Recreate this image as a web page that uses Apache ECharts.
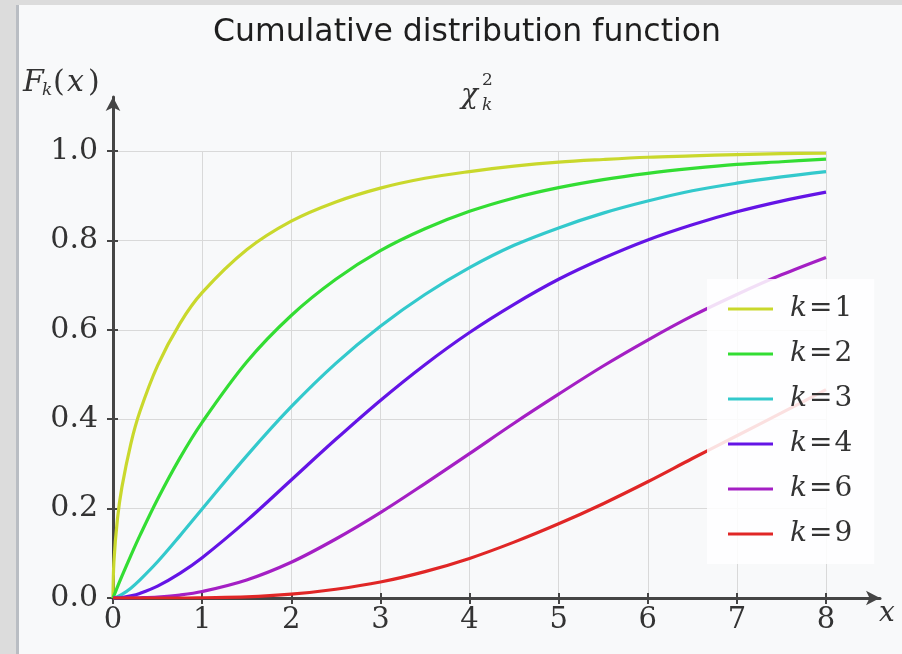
<!DOCTYPE html>
<html><head><meta charset="utf-8">
<script src="https://cdn.jsdelivr.net/npm/echarts@6/dist/echarts.min.js"></script>
<style>html,body{margin:0;padding:0;background:#f8f9fa}#c{width:902px;height:654px}</style>
</head><body><div id="c"></div><script>
const xValues = [0, 0.01, 0.05, 0.1, 0.2, 0.3, 0.5, 0.75, 1, 1.5, 2, 2.5, 3, 3.5, 4, 4.5, 5, 5.5, 6, 6.5, 7, 7.5, 8];
const k1 = [0, 0.080, 0.177, 0.248, 0.345, 0.416, 0.520, 0.614, 0.683, 0.779, 0.843, 0.886, 0.917, 0.939, 0.954, 0.966, 0.975, 0.981, 0.986, 0.989, 0.992, 0.994, 0.995];
const k2 = [0, 0.005, 0.025, 0.049, 0.095, 0.139, 0.221, 0.313, 0.393, 0.528, 0.632, 0.713, 0.777, 0.826, 0.865, 0.895, 0.918, 0.936, 0.950, 0.961, 0.970, 0.976, 0.982];
const k3 = [0, 0.0003, 0.003, 0.008, 0.022, 0.040, 0.081, 0.139, 0.199, 0.318, 0.428, 0.525, 0.608, 0.679, 0.739, 0.789, 0.828, 0.861, 0.888, 0.911, 0.928, 0.942, 0.954];
const k4 = [0, 0.0000, 0.0003, 0.0012, 0.0047, 0.0102, 0.0265, 0.055, 0.090, 0.173, 0.264, 0.355, 0.442, 0.522, 0.594, 0.657, 0.713, 0.760, 0.801, 0.835, 0.864, 0.888, 0.908];
const k6 = [0, 0, 0, 0, 0.0002, 0.0005, 0.0022, 0.0066, 0.0144, 0.0404, 0.080, 0.132, 0.191, 0.256, 0.323, 0.391, 0.456, 0.519, 0.577, 0.631, 0.679, 0.723, 0.762];
const k9 = [0, 0, 0, 0, 0, 0, 0, 0, 0.0006, 0.0024, 0.0085, 0.0196, 0.0357, 0.059, 0.0886, 0.125, 0.166, 0.211, 0.260, 0.312, 0.363, 0.414, 0.466];
const seriesNames = ['k=1', 'k=2', 'k=3', 'k=4', 'k=6', 'k=9'];
const seriesValues = [k1, k2, k3, k4, k6, k9];
const seriesColors = ['#c9d82c', '#33dd33', '#33c9cc', '#6414e6', '#a41fc4', '#e02626'];
const xTicks = [0, 1, 2, 3, 4, 5, 6, 7, 8];
const yTicks = [0, 0.2, 0.4, 0.6, 0.8, 1.0];

const SERIF = '"DejaVu Serif", serif';
const AX = '#454545';
const chart = echarts.init(document.getElementById('c'));

const baseX = { type: 'value', gridIndex: 0, min: xTicks[0], max: xTicks[xTicks.length - 1], interval: 1, position: 'bottom' };
const baseY = { type: 'value', gridIndex: 0, min: yTicks[0], max: yTicks[yTicks.length - 1], interval: 0.2, position: 'left' };

const option = {
  backgroundColor: '#f8f9fa',
  animation: false,
  grid: [
    { left: 113, right: 76, top: 151, bottom: 56 },
    { left: 113, right: 22, top: 97, bottom: 56 }
  ],
  xAxis: [
    Object.assign({}, baseX, {
      axisLine: { show: false },
      axisTick: { show: true, inside: false, length: 6, lineStyle: { color: AX, width: 2 } },
      axisLabel: { show: true, margin: 8, fontFamily: SERIF, fontSize: 29, color: '#333' },
      splitLine: { show: true, lineStyle: { color: '#d9d9d9', width: 1 } }
    }),
    Object.assign({}, baseX, {
      axisLine: { show: false },
      axisTick: { show: true, inside: true, length: 5, lineStyle: { color: AX, width: 2 } },
      axisLabel: { show: false },
      splitLine: { show: false }
    }),
    { type: 'value', gridIndex: 1, min: 0, max: 8.6, position: 'bottom',
      axisLine: { show: true, symbol: ['none', 'arrow'], symbolSize: [11, 14], lineStyle: { color: AX, width: 3 } },
      axisTick: { show: false }, axisLabel: { show: false }, splitLine: { show: false } }
  ],
  yAxis: [
    Object.assign({}, baseY, {
      axisLine: { show: false },
      axisTick: { show: true, inside: false, length: 6, lineStyle: { color: AX, width: 2 } },
      axisLabel: { show: true, margin: 15, fontFamily: SERIF, fontSize: 30, color: '#333', formatter: v => v.toFixed(1) },
      splitLine: { show: true, lineStyle: { color: '#d9d9d9', width: 1 } }
    }),
    Object.assign({}, baseY, {
      axisLine: { show: false },
      axisTick: { show: true, inside: true, length: 5, lineStyle: { color: AX, width: 2 } },
      axisLabel: { show: false },
      splitLine: { show: false }
    }),
    { type: 'value', gridIndex: 1, min: 0, max: 1.12, position: 'left',
      axisLine: { show: true, symbol: ['none', 'arrow'], symbolSize: [11, 14], lineStyle: { color: AX, width: 3 } },
      axisTick: { show: false }, axisLabel: { show: false }, splitLine: { show: false } }
  ],
  legend: {
    orient: 'vertical',
    left: 707, top: 279,
    padding: [15, 22, 15, 21],
    itemGap: 15,
    itemWidth: 45, itemHeight: 3,
    icon: 'rect',
    backgroundColor: 'rgba(255,255,255,0.86)',
    data: seriesNames,
    formatter: n => '{i|k}{e|=}{r|' + n.split('=')[1] + '}',
    textStyle: {
      lineHeight: 30,
      rich: {
        i: { fontFamily: SERIF, fontStyle: 'italic', fontSize: 28, color: '#333', padding: [0, 0, 0, 12], lineHeight: 30 },
        e: { fontFamily: SERIF, fontSize: 28, color: '#333', padding: [0, 2, 0, 2], lineHeight: 30 },
        r: { fontFamily: SERIF, fontSize: 28, color: '#333', lineHeight: 30 }
      }
    }
  },
  series: seriesNames.map((name, i) => ({
    name: name,
    type: 'line',
    xAxisIndex: 0, yAxisIndex: 0,
    data: xValues.map((x, j) => [x, seriesValues[i][j]]),
    smooth: 0.35,
    showSymbol: false,
    symbol: 'none',
    color: seriesColors[i],
    lineStyle: { width: 3.2, color: seriesColors[i] },
    z: 3
  })),
  graphic: [
    { type: 'rect', shape: { x: 0, y: 0, width: 16, height: 654 }, style: { fill: '#dcdcdc' }, silent: true },
    { type: 'rect', shape: { x: 0, y: 0, width: 902, height: 5 }, style: { fill: '#dcdcdc' }, silent: true },
    { type: 'rect', shape: { x: 16, y: 5, width: 3, height: 649 }, style: { fill: '#b9bdc3' }, silent: true },
    { type: 'text', x: 467, y: 33, style: { text: 'Cumulative distribution function', font: '31.5px "DejaVu Sans"', fill: '#1e1e1e', textAlign: 'center', textVerticalAlign: 'middle' } },
    { type: 'text', x: 461, y: 96, style: { text: 'χ', font: 'italic 28px "DejaVu Serif"', fill: '#333', textAlign: 'left', textVerticalAlign: 'middle' } },
    { type: 'text', x: 482, y: 81, style: { text: '2', font: '17px "DejaVu Serif"', fill: '#333', textAlign: 'left', textVerticalAlign: 'middle' } },
    { type: 'text', x: 482, y: 106, style: { text: 'k', font: 'italic 17px "DejaVu Serif"', fill: '#333', textAlign: 'left', textVerticalAlign: 'middle' } },
    { type: 'text', x: 23, y: 83, style: { text: 'F', font: 'italic 30px "DejaVu Serif"', fill: '#333', textAlign: 'left', textVerticalAlign: 'middle' } },
    { type: 'text', x: 42, y: 91, style: { text: 'k', font: 'italic 17px "DejaVu Serif"', fill: '#333', textAlign: 'left', textVerticalAlign: 'middle' } },
    { type: 'text', x: 53, y: 83, style: { text: '(', font: '30px "DejaVu Serif"', fill: '#333', textAlign: 'left', textVerticalAlign: 'middle' } },
    { type: 'text', x: 67, y: 83, style: { text: 'x', font: 'italic 30px "DejaVu Serif"', fill: '#333', textAlign: 'left', textVerticalAlign: 'middle' } },
    { type: 'text', x: 88, y: 83, style: { text: ')', font: '30px "DejaVu Serif"', fill: '#333', textAlign: 'left', textVerticalAlign: 'middle' } },
    { type: 'text', x: 879, y: 614, style: { text: 'x', font: 'italic 28px "DejaVu Serif"', fill: '#333', textAlign: 'left', textVerticalAlign: 'middle' } }
  ]
};
chart.setOption(option);
</script></body></html>
